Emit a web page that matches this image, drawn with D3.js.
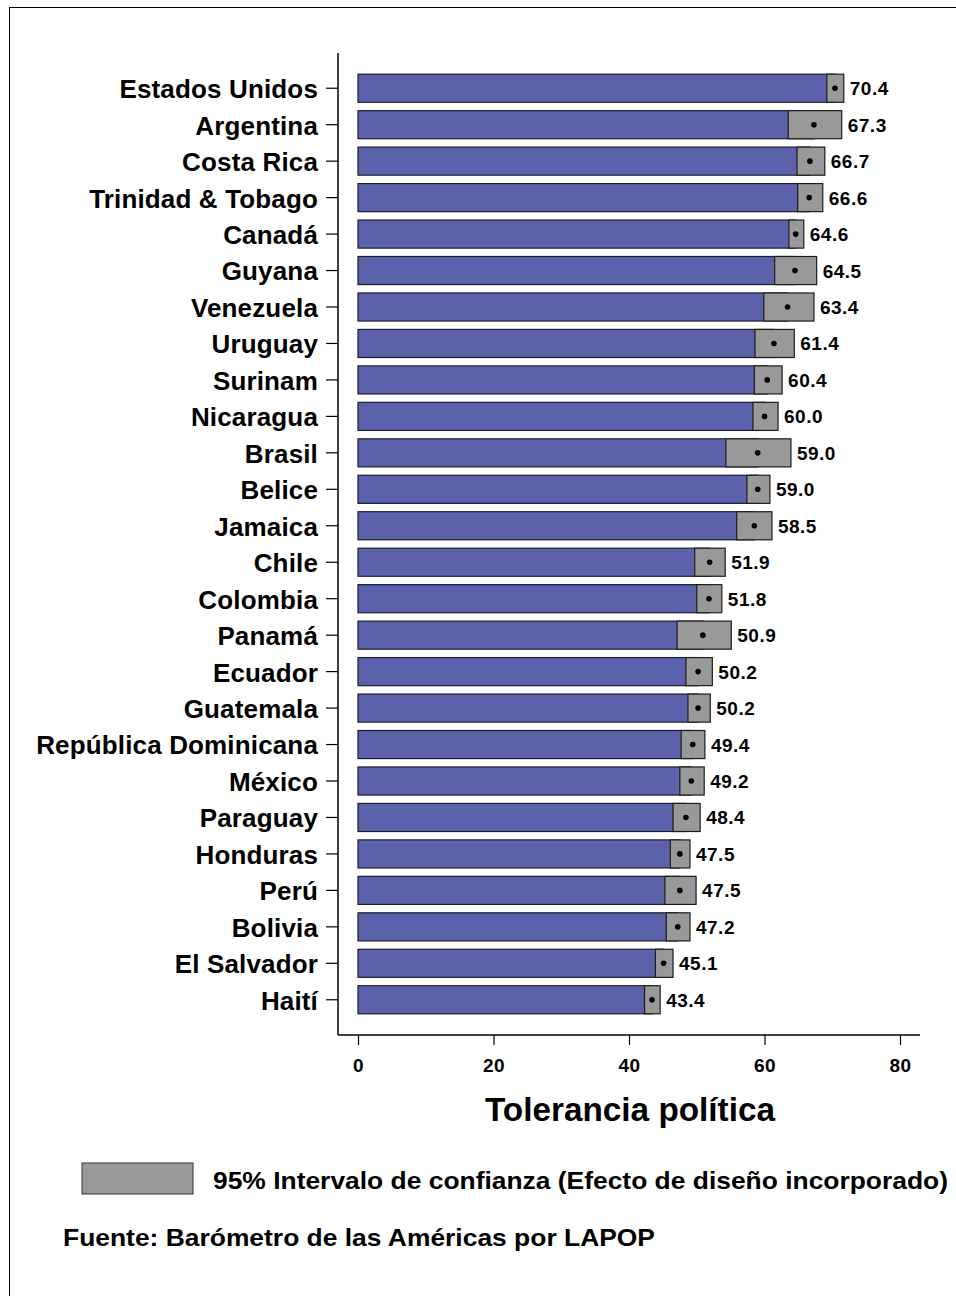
<!DOCTYPE html>
<html>
<head>
<meta charset="utf-8">
<script src="https://cdn.jsdelivr.net/npm/d3@7/dist/d3.min.js"></script>
<style>
  html, body { margin: 0; padding: 0; background: #fff; }
  svg { display: block; font-family: "Liberation Sans", Arial, sans-serif; }
</style>
</head>
<body>
<svg id="chart" width="956" height="1296"></svg>
<script>
const countries = ["Estados Unidos","Argentina","Costa Rica","Trinidad & Tobago","Canadá","Guyana","Venezuela","Uruguay","Surinam","Nicaragua","Brasil","Belice","Jamaica","Chile","Colombia","Panamá","Ecuador","Guatemala","República Dominicana","México","Paraguay","Honduras","Perú","Bolivia","El Salvador","Haití"];
const means = [70.4,67.3,66.7,66.6,64.6,64.5,63.4,61.4,60.4,60.0,59.0,59.0,58.5,51.9,51.8,50.9,50.2,50.2,49.4,49.2,48.4,47.5,47.5,47.2,45.1,43.4];
const ciLow = [69.2,63.5,64.8,64.9,63.6,61.5,59.9,58.6,58.5,58.3,54.3,57.4,55.9,49.7,50.0,47.1,48.4,48.7,47.7,47.5,46.5,46.1,45.3,45.5,43.9,42.3];
const ciHigh = [71.7,71.4,68.9,68.6,65.8,67.7,67.3,64.4,62.6,62.0,63.9,60.8,61.1,54.2,53.7,55.1,52.3,52.0,51.2,51.1,50.5,49.0,49.9,49.0,46.5,44.6];
const xTicks = [0,20,40,60,80];
const xTitle = "Tolerancia política";
const legendText = "95% Intervalo de confianza (Efecto de diseño incorporado)";
const sourceText = "Fuente: Barómetro de las Américas por LAPOP";

const data = countries.map((c,i)=>({c, m:means[i], lo:ciLow[i], hi:ciHigh[i]}));
const svg = d3.select("#chart");
const FONT = "'Liberation Sans', Arial, sans-serif";

// frame
svg.append("rect").attr("x",9.5).attr("y",7.5).attr("width",960).attr("height",1300)
  .attr("fill","none").attr("stroke","#000").attr("stroke-width",1);

const x = d3.scaleLinear().domain([0,80]).range([358,900]);
const y = d3.scaleBand().domain(countries).range([70,1018]).paddingInner(0.23).paddingOuter(0.115);

const axisX = 338, axisY = 1035;

// y axis
const yAxis = d3.axisLeft(y).tickSize(12).tickPadding(8).tickSizeOuter(0);
const gy = svg.append("g").attr("transform",`translate(${axisX},0)`).call(yAxis);
gy.select(".domain").remove();
gy.selectAll(".tick line").attr("stroke","#000").attr("stroke-width",1.2);
gy.selectAll(".tick text").attr("font-size",26).attr("font-weight","bold").attr("fill","#000")
  .attr("font-family",FONT).attr("letter-spacing","0.15px").attr("dy","0.38em");
svg.append("line").attr("x1",axisX).attr("x2",axisX).attr("y1",53).attr("y2",axisY)
  .attr("stroke","#000").attr("stroke-width",1.5);

// x axis
const xAxis = d3.axisBottom(x).tickValues(xTicks).tickSize(10).tickPadding(14).tickSizeOuter(0).tickFormat(d3.format("d"));
const gx = svg.append("g").attr("transform",`translate(0,${axisY})`).call(xAxis);
gx.select(".domain").remove();
gx.selectAll(".tick line").attr("stroke","#000").attr("stroke-width",1.2);
gx.selectAll(".tick text").attr("font-size",19).attr("font-weight","bold").attr("fill","#000")
  .attr("font-family",FONT).attr("letter-spacing","0.5px");
svg.append("line").attr("x1",axisX).attr("x2",920).attr("y1",axisY).attr("y2",axisY)
  .attr("stroke","#000").attr("stroke-width",1.5);

// bars
const g = svg.append("g");
g.selectAll("rect.bar").data(data).join("rect").attr("class","bar")
  .attr("x",x(0)).attr("y",d=>y(d.c)).attr("width",d=>x(d.m)-x(0)).attr("height",y.bandwidth())
  .attr("fill","#5b62ab").attr("stroke","#1c1c30").attr("stroke-width",1.2);
g.selectAll("rect.ci").data(data).join("rect").attr("class","ci")
  .attr("x",d=>x(d.lo)).attr("y",d=>y(d.c)).attr("width",d=>x(d.hi)-x(d.lo)).attr("height",y.bandwidth())
  .attr("fill","#999999").attr("stroke","#1c1c1c").attr("stroke-width",1.2);
g.selectAll("circle").data(data).join("circle")
  .attr("cx",d=>x(d.m)).attr("cy",d=>y(d.c)+y.bandwidth()/2).attr("r",2.8).attr("fill","#000");
g.selectAll("text.val").data(data).join("text").attr("class","val")
  .attr("x",d=>x(d.hi)+6).attr("y",d=>y(d.c)+y.bandwidth()/2).attr("dy","0.37em")
  .attr("font-size",19).attr("font-weight","bold").attr("fill","#000").attr("letter-spacing","0.5px")
  .text(d=>d.m.toFixed(1));

// x title
svg.append("text").attr("x",630).attr("y",1121).attr("text-anchor","middle")
  .attr("font-size",34).attr("font-weight","bold")
  .attr("textLength",290).attr("lengthAdjust","spacingAndGlyphs").text(xTitle);

// legend
svg.append("rect").attr("x",82).attr("y",1163).attr("width",111).attr("height",31)
  .attr("fill","#999999").attr("stroke","#333").attr("stroke-width",1);
svg.append("text").attr("x",213).attr("y",1189).attr("font-size",24).attr("font-weight","bold")
  .attr("textLength",735).attr("lengthAdjust","spacingAndGlyphs").text(legendText);
svg.append("text").attr("x",63).attr("y",1246).attr("font-size",24).attr("font-weight","bold")
  .attr("textLength",592).attr("lengthAdjust","spacingAndGlyphs").text(sourceText);
</script>
</body>
</html>
